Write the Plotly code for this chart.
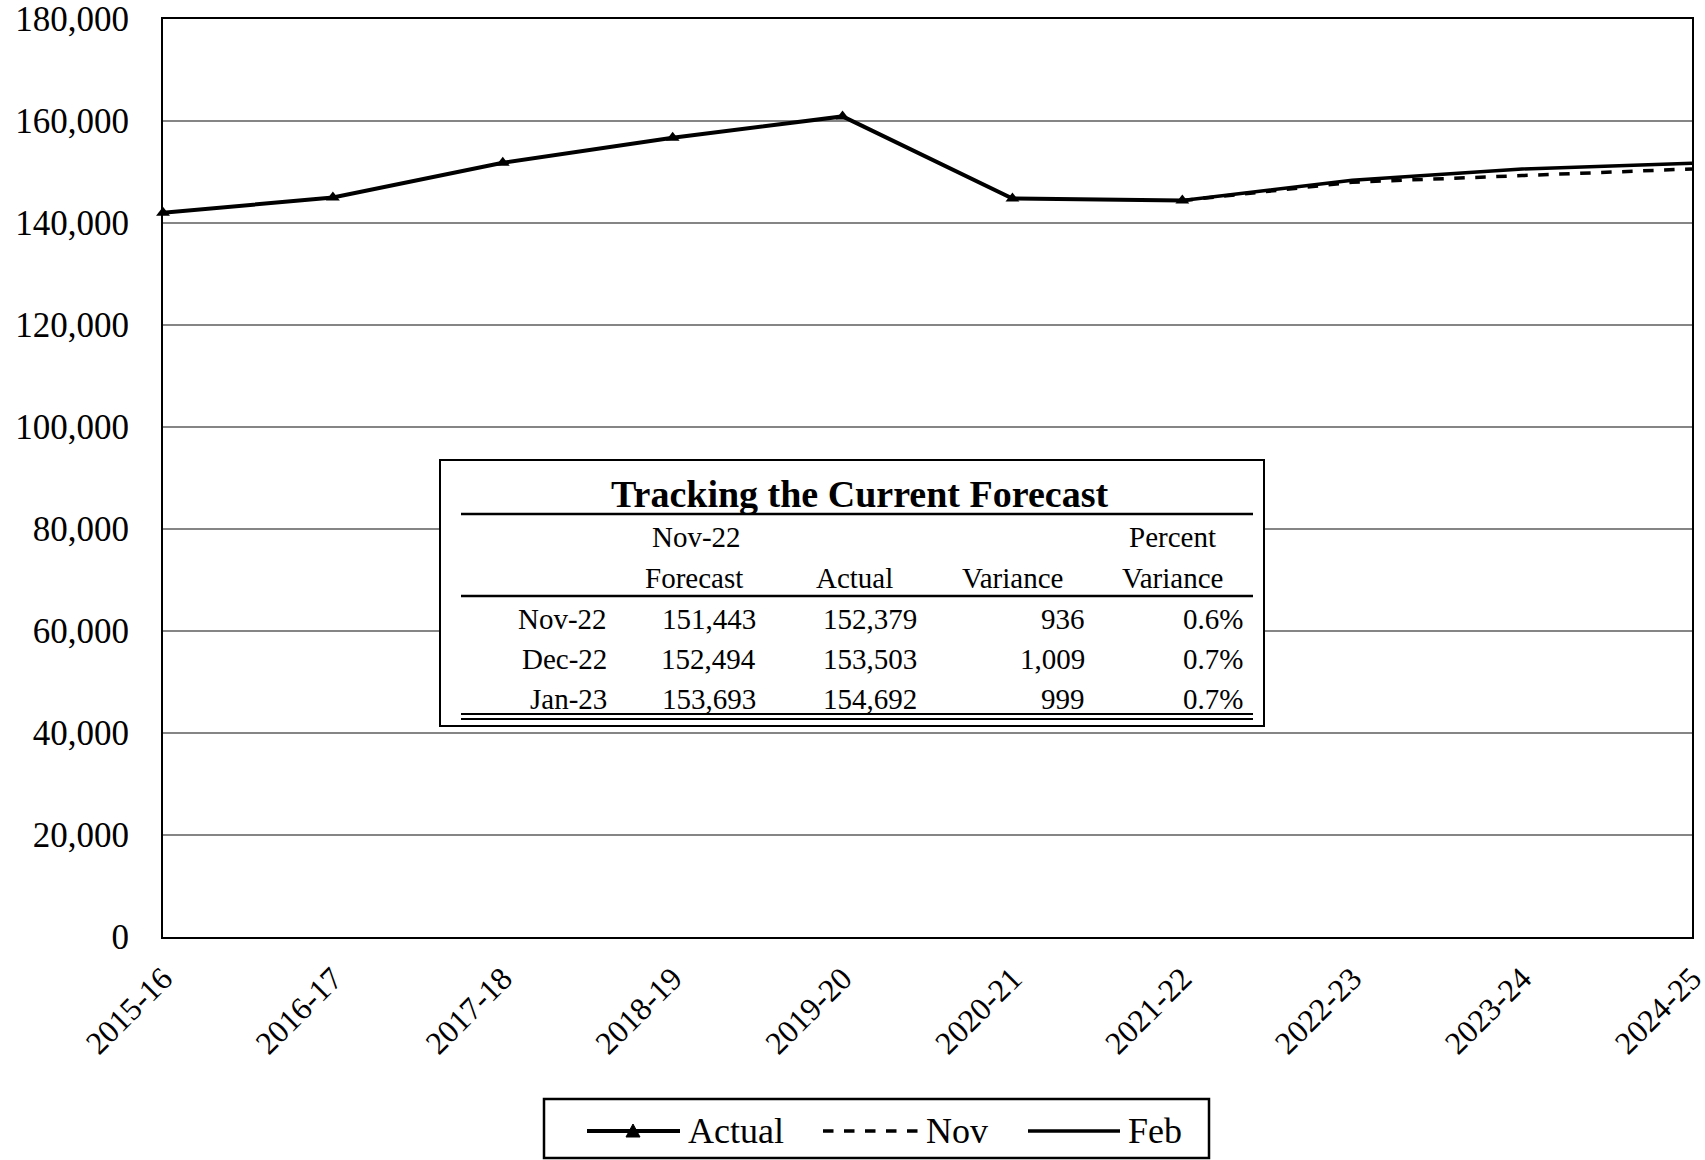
import plotly.graph_objects as go

# ---------------- data ----------------
years = ["2015-16", "2016-17", "2017-18", "2018-19", "2019-20",
         "2020-21", "2021-22", "2022-23", "2023-24", "2024-25"]
actual = [142000, 145000, 151800, 156700, 160900, 144800, 144400]
nov_years = ["2021-22", "2022-23", "2023-24", "2024-25"]
nov = [144400, 148000, 149300, 150600]
feb = [144400, 148400, 150600, 151700]

tbl_title = "Tracking the Current Forecast"
tbl_months = ["Nov-22", "Dec-22", "Jan-23"]
tbl_forecast = ["151,443", "152,494", "153,693"]
tbl_actual = ["152,379", "153,503", "154,692"]
tbl_variance = ["936", "1,009", "999"]
tbl_pct = ["0.6%", "0.7%", "0.7%"]

# ---------------- layout helpers ----------------
W, H = 1705, 1160
L, R, T, B = 163, 1692, 19, 937  # plot area in page pixels


def X(px):
    return (px - L) / (R - L)


def Y(py):
    return (B - py) / (B - T)


FONT = "Liberation Serif"

fig = go.Figure()
fig.add_trace(go.Scatter(x=years[:len(actual)], y=actual, mode="lines+markers",
                         line=dict(color="black", width=4),
                         marker=dict(symbol="triangle-up", size=12, color="black"),
                         cliponaxis=False, name="Actual"))
fig.add_trace(go.Scatter(x=nov_years, y=nov, mode="lines",
                         line=dict(color="black", width=3.5, dash="dash"), name="Nov"))
fig.add_trace(go.Scatter(x=nov_years, y=feb, mode="lines",
                         line=dict(color="black", width=3.5), name="Feb"))

fig.update_layout(
    width=W, height=H, showlegend=False,
    margin=dict(l=L, r=W - R, t=T, b=H - B, pad=0, autoexpand=False),
    paper_bgcolor="white", plot_bgcolor="white",
    font=dict(family=FONT, color="black", size=32),
)
fig.update_xaxes(type="category", categoryorder="array", categoryarray=years,
                 range=[0, len(years) - 1], tickangle=-45, automargin=False,
                 showline=True, mirror=True, linecolor="black", linewidth=2,
                 showgrid=False, ticks="", ticklabelstandoff=8, ticklabeloverflow="allow",
                 tickfont=dict(family=FONT, size=32))
fig.update_yaxes(range=[0, 180000], dtick=20000, tickformat=",d", automargin=False,
                 showline=True, mirror=True, linecolor="black", linewidth=2,
                 showgrid=True, gridcolor="#858585", gridwidth=2, zeroline=False,
                 ticks="", ticklabelstandoff=25, ticklabeloverflow="allow",
                 tickfont=dict(family=FONT, size=35))

shapes = []
ann = []

# ---------------- table ----------------
shapes.append(dict(type="rect", xref="paper", yref="paper",
                   x0=X(440), x1=X(1264), y0=Y(726), y1=Y(460),
                   line=dict(color="black", width=2), fillcolor="white", layer="above"))
for yy, w in [(514, 2.5), (596, 2.5), (714, 2), (719, 2)]:
    shapes.append(dict(type="line", xref="paper", yref="paper",
                       x0=X(461), x1=X(1253), y0=Y(yy), y1=Y(yy),
                       line=dict(color="black", width=w), layer="above"))

ann.append(dict(text="<b>" + tbl_title + "</b>", x=X(859), y=Y(494), xref="paper", yref="paper",
                showarrow=False, xanchor="center", yanchor="middle",
                font=dict(family=FONT, size=38)))
tf = dict(family=FONT, size=29)
for txt, cx, cy in [("Nov-22", 696, 537), ("Percent", 1172, 537),
                    ("Forecast", 694, 578), ("Actual", 854, 578),
                    ("Variance", 1012, 578), ("Variance", 1172, 578)]:
    ann.append(dict(text=txt, x=X(cx), y=Y(cy), xref="paper", yref="paper", showarrow=False,
                    xanchor="center", yanchor="middle", font=tf))
row_y = [619, 659, 699]
cols = [(tbl_months, 609), (tbl_forecast, 758), (tbl_actual, 919),
        (tbl_variance, 1087), (tbl_pct, 1245)]
for vals, rx in cols:
    for v, ry in zip(vals, row_y):
        ann.append(dict(text=v, x=X(rx), y=Y(ry), xref="paper", yref="paper", showarrow=False,
                        xanchor="right", yanchor="middle", font=tf))

# ---------------- legend (manual) ----------------
ly = 1131
shapes.append(dict(type="rect", xref="paper", yref="paper",
                   x0=X(544), x1=X(1209), y0=Y(1158), y1=Y(1099),
                   line=dict(color="black", width=2.5), fillcolor="white", layer="above"))
shapes.append(dict(type="line", xref="paper", yref="paper", x0=X(587), x1=X(680),
                   y0=Y(ly), y1=Y(ly), line=dict(color="black", width=4), layer="above"))
tri = "M {} {} L {} {} L {} {} Z".format(X(626), Y(ly + 6), X(640), Y(ly + 6), X(633), Y(ly - 7))
shapes.append(dict(type="path", xref="paper", yref="paper", path=tri,
                   fillcolor="black", line=dict(color="black", width=1), layer="above"))
shapes.append(dict(type="line", xref="paper", yref="paper", x0=X(823), x1=X(919),
                   y0=Y(ly), y1=Y(ly), line=dict(color="black", width=3.5, dash="dash"), layer="above"))
shapes.append(dict(type="line", xref="paper", yref="paper", x0=X(1028), x1=X(1120),
                   y0=Y(ly), y1=Y(ly), line=dict(color="black", width=3.5), layer="above"))
for txt, lx in [("Actual", 686), ("Nov", 924), ("Feb", 1126)]:
    ann.append(dict(text=txt, x=X(lx), y=Y(ly), xref="paper", yref="paper", showarrow=False,
                    xanchor="left", yanchor="middle", font=dict(family=FONT, size=36)))

fig.update_layout(shapes=shapes, annotations=ann)
fig.write_html("out.html", config={"displayModeBar": False},
               post_script="document.body.style.margin='0';document.body.style.overflow='hidden';")
